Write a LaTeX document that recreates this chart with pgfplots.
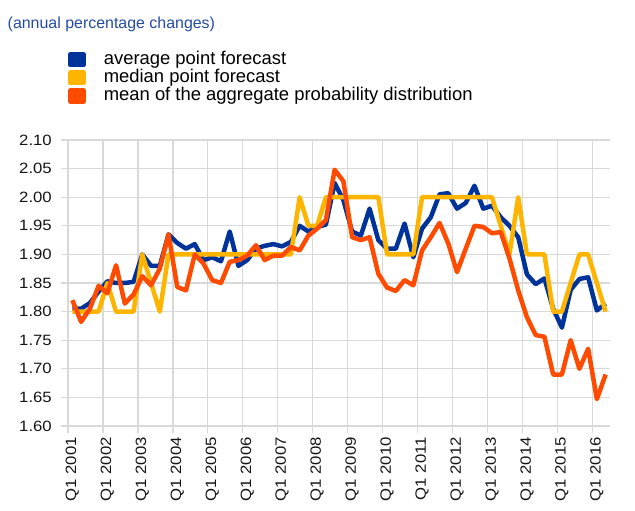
\documentclass[border=0pt]{standalone}
\usepackage{fontspec}
\setmainfont{Liberation Sans}
\newfontfamily\tickfont{Liberation Sans}[FakeStretch=1.12]
\usepackage{pgfplots}
\pgfplotsset{compat=1.18}
\definecolor{ecbblue}{RGB}{0,51,153}
\definecolor{ecbyellow}{RGB}{255,180,0}
\definecolor{ecborange}{RGB}{255,75,0}
\definecolor{gridgray}{RGB}{217,217,217}
\definecolor{subblue}{RGB}{35,75,160}
\definecolor{ticktext}{RGB}{20,20,20}
\begin{document}
\begin{tikzpicture}
\path[use as bounding box] (0bp,0bp) rectangle (635bp,511bp);
\node[anchor=base west, inner sep=0pt, text=subblue, font=\fontsize{16}{19}\selectfont] at (7.5bp,482.7bp) {(annual percentage changes)};
\begin{axis}[
  at={(68bp,85bp)}, anchor=south west,
  scale only axis, width=542bp, height=286bp,
  xmin=-0.5, xmax=61.5, ymin=1.6, ymax=2.1,
  axis x line*=bottom, axis y line*=left,
  axis line style={draw=gridgray, line width=1.2bp},
  xtick={0,4,8,12,16,20,24,28,32,36,40,44,48,52,56,60},
  xticklabels={Q1 2001,Q1 2002,Q1 2003,Q1 2004,Q1 2005,Q1 2006,Q1 2007,Q1 2008,Q1 2009,Q1 2010,Q1 2011,Q1 2012,Q1 2013,Q1 2014,Q1 2015,Q1 2016},
  minor xtick={-0.5,3.5,7.5,11.5,15.5,19.5,23.5,27.5,31.5,35.5,39.5,43.5,47.5,51.5,55.5,59.5},
  major x tick style={draw=none},
  minor x tick style={draw=gridgray, line width=1.2bp},
  y tick style={draw=gridgray, line width=1.2bp},
  xmajorgrids=false, xminorgrids=true, ymajorgrids=true,
  major grid style={draw=gridgray, line width=1.2bp},
  minor grid style={draw=gridgray, line width=1.2bp},
  tick align=outside, major tick length=7bp, minor tick length=7bp,
  ytick={1.6,1.65,1.7,1.75,1.8,1.85,1.9,1.95,2.0,2.05,2.1},
  yticklabel={\pgfmathprintnumber[fixed,fixed zerofill,precision=2]{\tick}},
  /pgf/number format/assume math mode=true,
  tick label style={font=\tickfont\fontsize{15}{18}\selectfont, text=ticktext},
  yticklabel style={anchor=east, inner sep=0pt, xshift=-9bp},
  xticklabel style={yshift=-4bp, rotate=90, anchor=east, inner sep=0pt},
  legend style={at={(0,1.3129)}, anchor=north west, draw=none, fill=none,
    inner sep=0pt, outer sep=0pt, row sep=0pt, column sep=18bp,
    font=\fontsize{18.5}{22}\selectfont,
    cells={anchor=base west},
    nodes={inner sep=0pt, text height=13.5bp, text depth=4.7bp}},
  legend image code/.code={\fill[#1] (0bp,-1bp) rectangle (13.3bp,9.7bp);},
  every axis plot/.append style={line width=4.5bp, line join=round},
]
\addplot[color=ecbblue] coordinates {
(0,1.805) (1,1.805) (2,1.815) (3,1.835) (4,1.853) (5,1.85) (6,1.85) (7,1.852)
(8,1.90) (9,1.88) (10,1.88) (11,1.935) (12,1.92) (13,1.91) (14,1.918) (15,1.89)
(16,1.895) (17,1.888) (18,1.94) (19,1.88) (20,1.89) (21,1.91) (22,1.915) (23,1.918)
(24,1.914) (25,1.922) (26,1.95) (27,1.94) (28,1.948) (29,1.952) (30,2.025) (31,1.995)
(32,1.94) (33,1.933) (34,1.98) (35,1.925) (36,1.91) (37,1.91) (38,1.954) (39,1.895)
(40,1.945) (41,1.965) (42,2.005) (43,2.007) (44,1.98) (45,1.99) (46,2.02) (47,1.98)
(48,1.985) (49,1.965) (50,1.95) (51,1.93) (52,1.865) (53,1.848) (54,1.858) (55,1.805)
(56,1.772) (57,1.838) (58,1.857) (59,1.86) (60,1.802) (61,1.814)
};
\addlegendentry{average point forecast}
\addplot[color=ecbyellow] coordinates {
(0,1.80) (1,1.80) (2,1.80) (3,1.80) (4,1.85) (5,1.80) (6,1.80) (7,1.80)
(8,1.90) (9,1.85) (10,1.80) (11,1.90) (12,1.90) (13,1.90) (14,1.90) (15,1.90)
(16,1.90) (17,1.90) (18,1.90) (19,1.90) (20,1.90) (21,1.90) (22,1.90) (23,1.90)
(24,1.90) (25,1.90) (26,2.00) (27,1.95) (28,1.95) (29,2.00) (30,2.00) (31,2.00)
(32,2.00) (33,2.00) (34,2.00) (35,2.00) (36,1.90) (37,1.90) (38,1.90) (39,1.90)
(40,2.00) (41,2.00) (42,2.00) (43,2.00) (44,2.00) (45,2.00) (46,2.00) (47,2.00)
(48,2.00) (49,1.95) (50,1.90) (51,2.00) (52,1.90) (53,1.90) (54,1.90) (55,1.80)
(56,1.80) (57,1.85) (58,1.90) (59,1.90) (60,1.85) (61,1.80)
};
\addlegendentry{median point forecast}
\addplot[color=ecborange] coordinates {
(0,1.82) (1,1.782) (2,1.805) (3,1.845) (4,1.832) (5,1.881) (6,1.814) (7,1.83)
(8,1.862) (9,1.846) (10,1.875) (11,1.935) (12,1.843) (13,1.837) (14,1.90) (15,1.884)
(16,1.855) (17,1.85) (18,1.887) (19,1.89) (20,1.898) (21,1.916) (22,1.89) (23,1.898)
(24,1.898) (25,1.913) (26,1.907) (27,1.933) (28,1.945) (29,1.96) (30,2.048) (31,2.028)
(32,1.93) (33,1.925) (34,1.93) (35,1.866) (36,1.842) (37,1.836) (38,1.855) (39,1.846)
(40,1.907) (41,1.93) (42,1.955) (43,1.919) (44,1.869) (45,1.91) (46,1.95) (47,1.948)
(48,1.937) (49,1.939) (50,1.893) (51,1.837) (52,1.79) (53,1.759) (54,1.756) (55,1.69)
(56,1.69) (57,1.75) (58,1.70) (59,1.735) (60,1.647) (61,1.69)
};
\addlegendentry{mean of the aggregate probability distribution}
\end{axis}
\end{tikzpicture}
\end{document}
